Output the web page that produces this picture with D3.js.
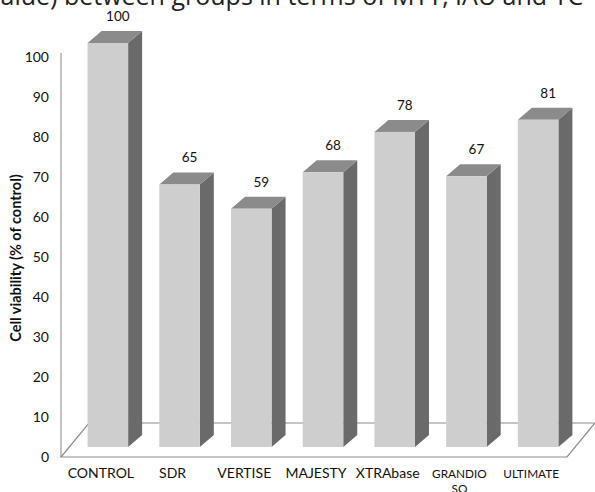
<!DOCTYPE html>
<html><head><meta charset="utf-8">
<script src="https://cdn.jsdelivr.net/npm/d3@7/dist/d3.min.js"></script>
<style>html,body{margin:0;padding:0;background:#fff;}svg{display:block;}</style>
</head><body>
<script>
const categories = ["CONTROL","SDR","VERTISE","MAJESTY","XTRAbase","GRANDIO SO","ULTIMATE"];
const values = [100,65,59,68,78,67,81];
const yTicks = [0,10,20,30,40,50,60,70,80,90,100];
const yTitle = "Cell viability (% of control)";
const captionText = "value) between groups in terms of MTT, IAU and TC";

const W = 595, H = 492;
const svg = d3.select("body").append("svg").attr("width", W).attr("height", H);
const font = "Lato, 'Liberation Sans', sans-serif";

// caption cut off at top
svg.append("text").attr("x", -12).attr("y", 5)
  .attr("font-family", "'Open Sans', 'Liberation Sans', sans-serif").attr("font-size", 25)
  .attr("fill", "#222").text(captionText);

const y = d3.scaleLinear().domain([0,100]).range([457,57]);
const yBar = d3.scaleLinear().domain([0,100]).range([447,43]);
const x = d3.scaleBand().domain(categories).range([72,574]).padding(0);
const step = x.step();
const bw = step*0.565;
const dx = 14, dy = -12;       // bar depth
const fdx = 28, fdy = -34;     // floor depth

// y axis
const axisX = 61;
svg.append("line").attr("x1",axisX).attr("x2",axisX).attr("y1",53).attr("y2",y(0))
  .attr("stroke","#9a9a9a").attr("stroke-width",1.2);
svg.append("g").selectAll("text").data(yTicks).join("text")
  .attr("x", 49).attr("y", d=>y(d)).attr("dy","0.35em")
  .attr("text-anchor","end").attr("font-family",font).attr("font-size",14)
  .attr("fill","#111").text(d=>d);

// y title
svg.append("text").attr("transform","translate(21,258) rotate(-90)")
  .attr("text-anchor","middle").attr("font-family",font).attr("font-weight","bold")
  .attr("font-size",14.5).attr("fill","#111").text(yTitle);

// floor
const fx0 = axisX, fx1 = 567, fy = y(0);
svg.append("path")
  .attr("d", `M${fx0},${fy} L${fx1},${fy} L${fx1+fdx},${fy+fdy} L${fx0+fdx},${fy+fdy} Z`)
  .attr("fill","none").attr("stroke","#8c8c8c").attr("stroke-width",1.2);

// bars
const g = svg.append("g");
categories.forEach((c,i)=>{
  const v = values[i];
  const cx = x(c) + step/2;
  const x0 = cx - bw/2, x1 = cx + bw/2;
  const yt = yBar(v), yb = yBar(0);
  g.append("path").attr("d",`M${x1},${yt} L${x1+dx},${yt+dy} L${x1+dx},${yb+dy} L${x1},${yb} Z`)
    .attr("fill","#6a6a6a");
  g.append("path").attr("d",`M${x0},${yt} L${x0+dx},${yt+dy} L${x1+dx},${yt+dy} L${x1},${yt} Z`)
    .attr("fill","#8b8b8b");
  g.append("rect").attr("x",x0).attr("y",yt).attr("width",bw).attr("height",yb-yt)
    .attr("fill","#cecece");
  g.append("text").attr("x", cx + dx/2 + 3).attr("y", yt + dy - 10)
    .attr("text-anchor","middle").attr("font-family",font).attr("font-size",13.5)
    .attr("fill","#111").text(v);
  const small = /^[A-Z ]+$/.test(c) && c.length >= 8;
  const t = svg.append("text").attr("x", cx - dx/2).attr("y", 478)
    .attr("text-anchor","middle").attr("font-family",font)
    .attr("font-size", small ? 11.8 : 14).attr("fill","#111");
  const parts = small ? c.split(" ") : [c];
  parts.forEach((p,j)=>{
    t.append("tspan").attr("x", cx - dx/2).attr("dy", j===0 ? 0 : 15).text(p);
  });
});
</script>
</body></html>
